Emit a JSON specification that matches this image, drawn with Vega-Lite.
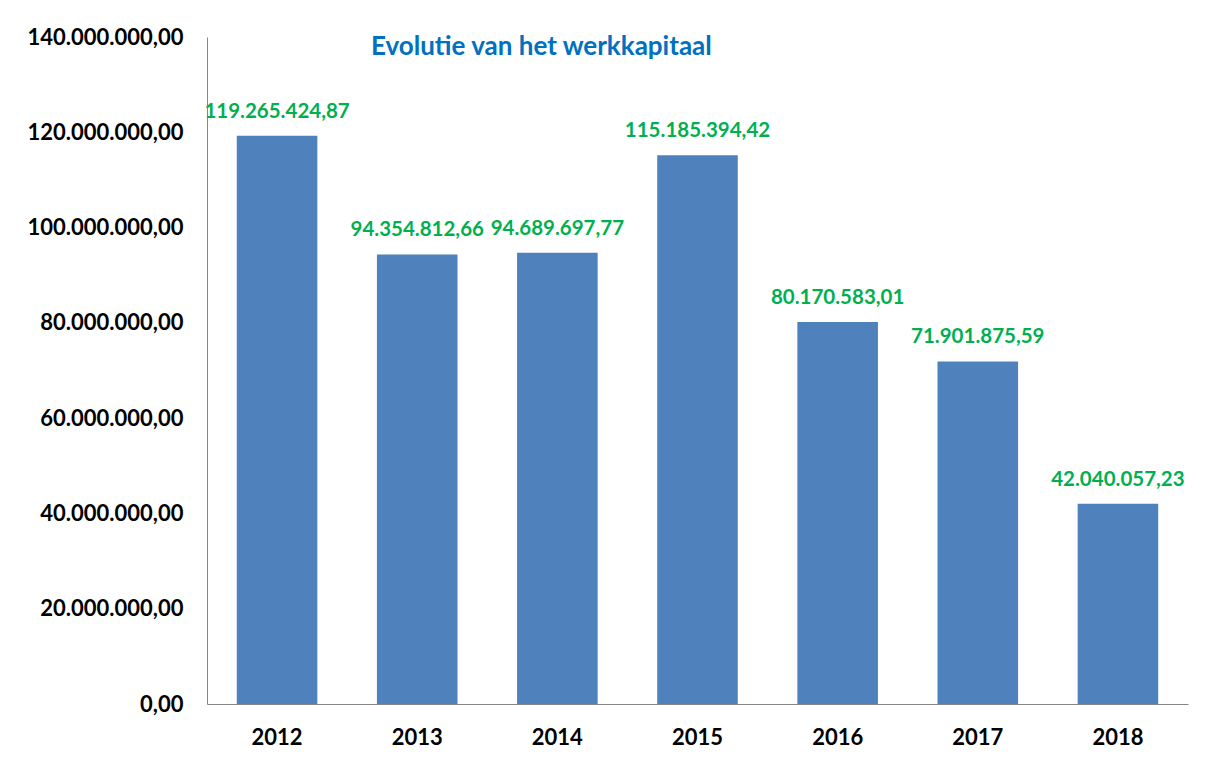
{
  "$schema": "https://vega.github.io/schema/vega-lite/v6.json",
  "autosize": {"type": "none"},
  "padding": {"left": 207, "top": 37, "right": 22, "bottom": 56},
  "width": 981,
  "height": 667,
  "background": "white",
  "config": {
    "locale": {"number": {"decimal": ",", "thousands": ".", "grouping": [3], "currency": ["€", ""]}},
    "view": {"stroke": null},
    "font": "Lato"
  },
  "title": {
    "text": "Evolutie van het werkkapitaal",
    "anchor": "start",
    "frame": "group",
    "dx": 164,
    "dy": 34,
    "offset": 0,
    "color": "#0070C0",
    "font": "Lato",
    "fontSize": 26,
    "fontWeight": "bold"
  },
  "data": {
    "values": [
      {"jaar": "2012", "waarde": 119265424.87},
      {"jaar": "2013", "waarde": 94354812.66},
      {"jaar": "2014", "waarde": 94689697.77},
      {"jaar": "2015", "waarde": 115185394.42},
      {"jaar": "2016", "waarde": 80170583.01},
      {"jaar": "2017", "waarde": 71901875.59},
      {"jaar": "2018", "waarde": 42040057.23}
    ]
  },
  "encoding": {
    "x": {
      "field": "jaar", "type": "nominal", "title": null,
      "scale": {"paddingInner": 0.425, "paddingOuter": 0.2125},
      "axis": {"labelAngle": 0, "ticks": false, "domainColor": "#868686", "labelFontSize": 22, "labelFontWeight": "bold", "labelColor": "#000000", "labelPadding": 23, "labelFont": "Lato"}
    },
    "y": {
      "field": "waarde", "type": "quantitative", "title": null,
      "scale": {"domain": [0, 140000000], "nice": false},
      "axis": {"values": [0, 20000000, 40000000, 60000000, 80000000, 100000000, 120000000, 140000000], "format": ",.2f", "grid": false, "ticks": false, "domainColor": "#868686", "labelFontSize": 22, "labelFontWeight": "bold", "labelColor": "#000000", "labelPadding": 24, "labelFont": "Lato"}
    }
  },
  "layer": [
    {"mark": {"type": "bar", "color": "#4F81BD"}},
    {
      "mark": {"type": "text", "dy": -24, "color": "#00B050", "fontSize": 20.5, "fontWeight": "bold", "font": "Lato"},
      "encoding": {"text": {"field": "waarde", "type": "quantitative", "format": ",.2f"}}
    }
  ]
}
